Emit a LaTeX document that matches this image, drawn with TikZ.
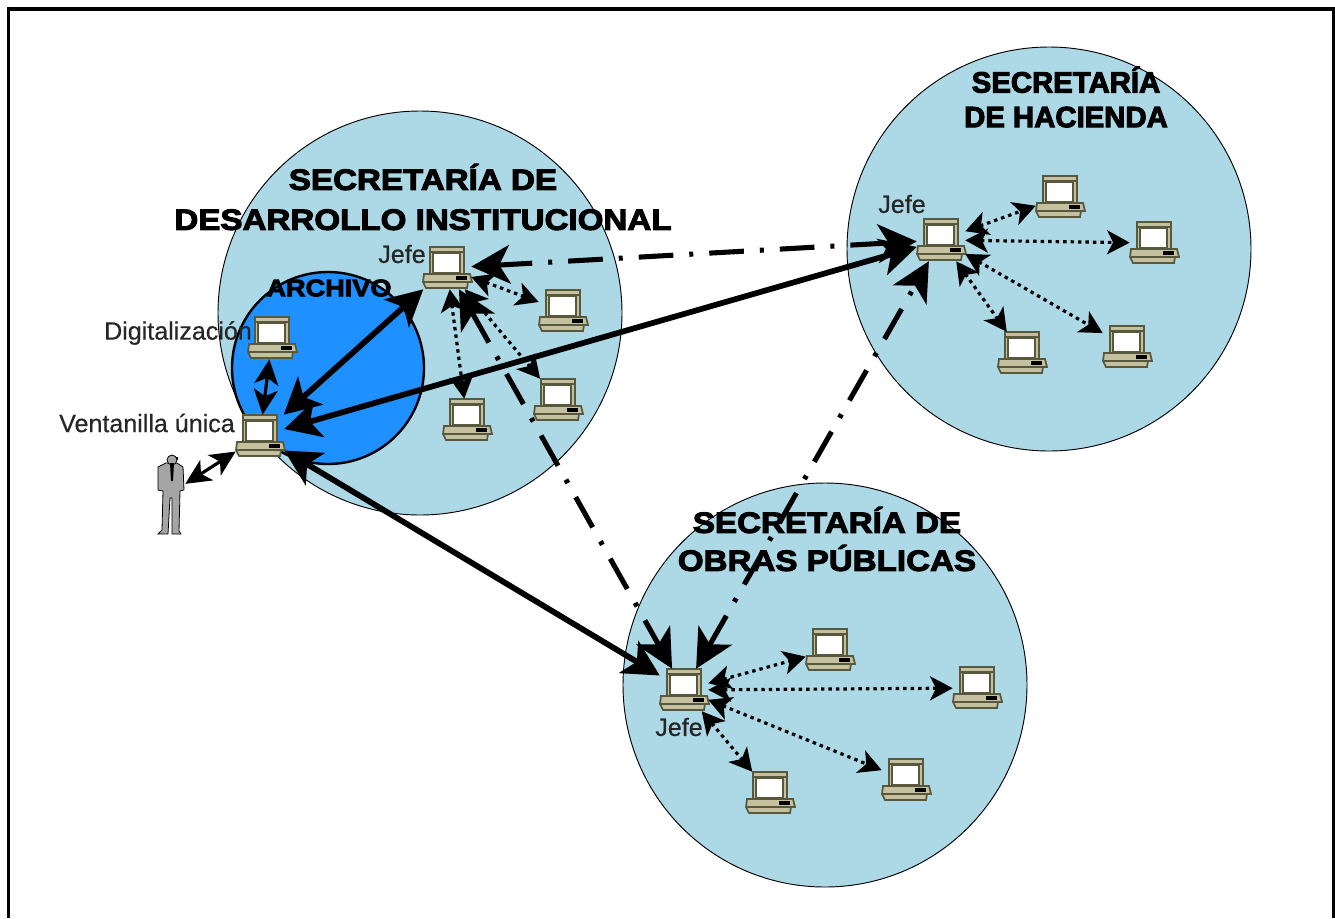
\documentclass[tikz,border=0pt]{standalone}
\usepackage{fontspec}
\setmainfont{Liberation Sans}[FakeBold=0.4]
\newfontfamily\titlefont[FakeBold=3.5,FakeStretch=1.13]{Liberation Sans Bold}
\newfontfamily\titlenarrow[FakeBold=3.5]{Liberation Sans Bold}
\usetikzlibrary{arrows.meta}

\definecolor{circleblue}{RGB}{173,216,230}
\definecolor{archiveblue}{RGB}{30,144,255}
\definecolor{pcdark}{RGB}{88,88,60}
\definecolor{pctan}{RGB}{196,192,160}
\definecolor{mangray}{RGB}{165,165,165}

\tikzset{
  pics/computer/.style={code={
    \fill [pctan] (-17,-21) rectangle (17,6);
    \draw [pcdark,line width=1.8pt] (-17,-21) rectangle (17,6);
    \draw [pcdark,line width=1pt] (-17,-16) -- (17,-16);
    \fill [white] (-13,-14) rectangle (12,4);
    \draw [pcdark,line width=1pt] (-14,-15) rectangle (13,5);
    \draw [pcdark,fill=pctan,line width=1.3pt] (-23,6) -- (23,6) -- (25,14) -- (21,14) -- (20,20) -- (-21,20) -- (-24,14) -- cycle;
    \draw [pcdark,line width=1pt] (-24,14) -- (21,14);
    \fill [black] (9,8) rectangle (20,12);
  }},
  pics/person/.style={code={
    \draw [black,fill=mangray,line width=0.6pt]
      (-5,-30) -- (6,-30) -- (12,-26) -- (13,-3) -- (9,-2) -- (8,38) -- (10,41) -- (1,41) -- (1,5) -- (-1,5) -- (-3,41) -- (-13,41) -- (-9,37) -- (-8,-2) -- (-13,-3) -- (-13,-26) -- cycle;
    \fill [black] (-3,-36) rectangle (7,-33);
    \draw [black,fill=mangray,line width=0.6pt] (1,-33) circle (5);
    \fill [black] (-1,-30) -- (3,-30) -- (2,-12) -- (0,-12) -- cycle;
  }},
  pcbox/.style={minimum width=36pt,minimum height=31.5pt,inner sep=0pt},
  secretaria/.style={circle,draw=black,line width=0.7pt,fill=circleblue,minimum size=303pt,inner sep=0pt},
  archivo/.style={circle,draw=black,line width=1.8pt,fill=archiveblue,minimum size=144pt,inner sep=0pt},
  titulo/.style={font=\titlefont\fontsize{22}{30}\selectfont,align=center,text=black,inner sep=0pt},
  etiqueta/.style={font=\fontsize{18.8}{20}\selectfont,text=black!85,inner sep=0pt},
  enlace/.style={line width=4.3pt,>={Stealth[length=27pt,width=28pt,inset=7pt]},<->},
  jefatura/.style={line width=3.8pt,dash pattern=on 26pt off 12pt on 3pt off 12pt,>={Stealth[length=29pt,width=29pt,inset=8pt]},<->},
  interno/.style={line width=2.4pt,dash pattern=on 2.6pt off 3pt,>={Stealth[length=17pt,width=18pt,inset=4.5pt]},<->},
  local/.style={line width=2.4pt,>={Stealth[length=19pt,width=18pt,inset=5pt]},<->},
}

\begin{document}
\begin{tikzpicture}[x=0.75pt,y=0.75pt,yscale=-1,xscale=1]
	\useasboundingbox (0,0) rectangle (1335,918);
	
	% marco
	\draw [line width=2.6pt] (8.5,918) -- (8.5,9) -- (1333.5,9) -- (1333.5,918);
	
	% circulos
	\node [secretaria] (circInst) at (420,313) {};
	\node [archivo] (circArch) at (328,368) {};
	\node [secretaria] (circHac) at (1049,249) {};
	\node [secretaria] (circObr) at (825,685) {};
	
	% textos
	\node [titulo] (txtInst) at (423,197) {SECRETARÍA DE\\DESARROLLO INSTITUCIONAL};
	\node [titulo,font=\titlenarrow\fontsize{22}{26}\selectfont] (txtHac) at (1066,97) {SECRETARÍA\\DE HACIENDA};
	\node [titulo,font=\titlefont\fontsize{22}{28.5}\selectfont] (txtObr) at (827,539) {SECRETARÍA DE\\OBRAS PÚBLICAS};
	\node [titulo,font=\titlefont\fontsize{18}{20}\selectfont] (txtArch) at (329,288) {ARCHIVO};
	\node [etiqueta] (txtDig) at (178,333) {Digitalización};
	\node [etiqueta] (txtVent) at (147,423) {Ventanilla única};
	\node [etiqueta] (txtJefeInst) at (402,254) {Jefe};
	\node [etiqueta] (txtJefeHac) at (902,204) {Jefe};
	\node [etiqueta] (txtJefeObr) at (679,727) {Jefe};
	
	% equipos
	\foreach \name/\pos in {digital/{(272,338)},ventanilla/{(260,436)},
		jefeInst/{(447,268)},instA/{(563,311)},instB/{(467,420)},instC/{(558,400)},
		jefeHac/{(941,240)},hacA/{(1060,197)},hacB/{(1154,243)},hacC/{(1022,353)},hacD/{(1127,347)},
		jefeObr/{(684,690)},obrA/{(830,650)},obrB/{(977,688)},obrC/{(770,793)},obrD/{(906,780)}}
	{
		\node [pcbox] (\name) at \pos {};
		\pic [transform shape] at (\name) {computer};
	}
	
	% usuario
	\node [minimum width=21pt,minimum height=60pt,inner sep=0pt] (usuario) at (171,493) {};
	\pic [transform shape] at (usuario) {person};
	
	% enlaces principales
	\draw [enlace] (ventanilla) -- (jefeInst);
	\draw [enlace] (ventanilla) -- (jefeHac);
	\draw [enlace] (ventanilla) -- (jefeObr);
	\draw [local] (digital) -- (ventanilla);
	\draw [local] (usuario) -- (ventanilla);
	
	% enlaces entre jefes
	\draw [jefatura] (jefeInst) -- (jefeHac);
	\draw [jefatura] (jefeInst) -- (jefeObr);
	\draw [jefatura] (jefeObr) -- (jefeHac);
	
	% enlaces internos
	\foreach \a/\b in {jefeInst/instA,jefeInst/instB,jefeInst/instC,
		jefeHac/hacA,jefeHac/hacB,jefeHac/hacC,jefeHac/hacD,
		jefeObr/obrA,jefeObr/obrB,jefeObr/obrC,jefeObr/obrD}
		\draw [interno] (\a) -- (\b);
	
\end{tikzpicture}
\end{document}
